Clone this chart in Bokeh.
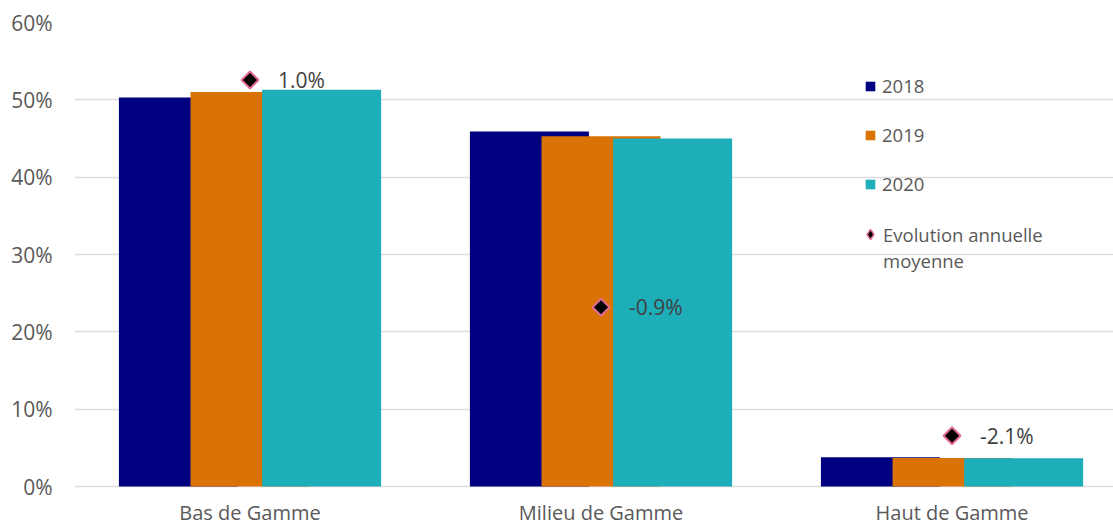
from bokeh.plotting import figure
from bokeh.models import (ColumnDataSource, Range1d, FixedTicker,
                          Legend, LegendItem)
from bokeh.core.properties import value
from bokeh.transform import dodge
from bokeh.embed import file_html
from bokeh.resources import INLINE
import numpy as np

# ---- data ----
categories = ["Bas de Gamme", "Milieu de Gamme", "Haut de Gamme"]
years = ["2018", "2019", "2020"]
share_2018 = [50.3, 45.9, 3.8]
share_2019 = [51.0, 45.3, 3.7]
share_2020 = [51.3, 45.0, 3.65]
evolution = [1.04, -0.94, -2.06]
evolution_label_lines = ["Evolution annuelle", "moyenne"]
y_ticks = [0, 10, 20, 30, 40, 50, 60]

colors = ["#000080", "#D97306", "#1DAEB9"]
FONT = "Open Sans"

xc = np.arange(len(categories)) + 0.5
src = ColumnDataSource(dict(
    x=xc, cat=categories, zero=[0] * len(categories),
    y2018=share_2018, y2019=share_2019, y2020=share_2020,
    evo=evolution, evo_txt=[f"{v:.1f}%" for v in evolution],
))

# frame runs down to the canvas bottom; 0 % sits 40 px above it
p = figure(width=1113, height=526, output_backend="svg", toolbar_location=None,
           x_range=Range1d(0, 2.96), y_range=Range1d(-5.17, 60),
           min_border_left=74, min_border_right=0, min_border_top=22,
           min_border_bottom=0)
p.extra_y_ranges = {"evo": Range1d(-2.851, 1.541)}
p.outline_line_color = None
p.background_fill_color = "white"
p.border_fill_color = "white"

bw = 0.339
off = 0.204
renderers = []
for yr, col, o in zip(years, colors, [-off, 0.0, off]):
    r = p.vbar(x=dodge("x", o), top="y" + yr, width=bw, bottom=0, source=src,
               fill_color=col, line_color=None)
    renderers.append(r)

evo_r = p.scatter(x="x", y="evo", source=src, y_range_name="evo",
                  marker="square", angle=np.pi / 4, size=12,
                  fill_color="black", line_color="#E46C94", line_width=2)
p.text(x="x", y="evo", text="evo_txt", source=src, y_range_name="evo",
       x_offset=28, text_align="left", text_baseline="middle",
       text_font=value(FONT), text_font_size="21px", text_color="#404040")

# category labels under the zero line
p.text(x="x", y="zero", text="cat", source=src, y_offset=26,
       text_align="center", text_baseline="middle",
       text_font=value(FONT), text_font_size="20px", text_color="#595959")

# stand-in renderers used only for the legend
dummy = p.scatter(x=[np.nan], y=[np.nan], marker="diamond", size=10,
                  fill_color="black", line_color="#E46C94", line_width=1.5)
blank = p.scatter(x=[np.nan], y=[np.nan], marker="square", size=1,
                  fill_alpha=0, line_alpha=0)

# axes
p.yaxis.ticker = FixedTicker(ticks=y_ticks)
p.yaxis.major_label_overrides = {t: f"{t}%" for t in y_ticks}
p.yaxis.axis_line_color = None
p.yaxis.major_tick_line_color = None
p.yaxis.minor_tick_line_color = None
p.yaxis.major_tick_out = 0
p.yaxis.minor_tick_out = 0
p.yaxis.major_label_standoff = 22
p.yaxis.major_label_text_font = FONT
p.yaxis.major_label_text_font_size = "21px"
p.yaxis.major_label_text_color = "#595959"

p.xaxis.visible = False

p.xgrid.grid_line_color = None
p.ygrid.ticker = FixedTicker(ticks=y_ticks)
p.ygrid.grid_line_color = "#DDDDDD"
p.ygrid.grid_line_width = 1.5

leg1 = Legend(items=[LegendItem(label=yr, renderers=[r]) for yr, r in zip(years, renderers)],
              location=(790, 330), orientation="vertical",
              glyph_width=12, glyph_height=12, label_standoff=6,
              spacing=24, padding=0, margin=0,
              border_line_color=None, background_fill_alpha=0,
              label_text_font=FONT, label_text_font_size="18.5px",
              label_text_color="#595959")
leg2 = Legend(items=[LegendItem(label=evolution_label_lines[0], renderers=[dummy]),
                     LegendItem(label=evolution_label_lines[1], renderers=[blank])],
              location=(783, 253), orientation="vertical",
              glyph_width=26, glyph_height=26, label_standoff=0,
              spacing=0, padding=0, margin=0,
              border_line_color=None, background_fill_alpha=0,
              label_text_font=FONT, label_text_font_size="18.5px",
              label_text_color="#595959")
p.add_layout(leg1)
p.add_layout(leg2)

open("out.html", "w").write(file_html(p, INLINE))
